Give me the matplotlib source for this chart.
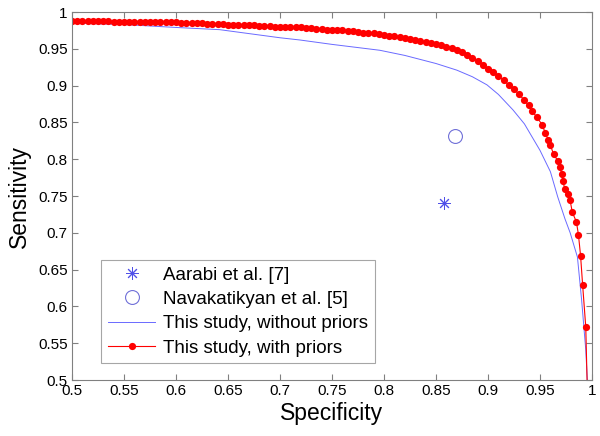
import numpy as np
from matplotlib import pyplot as plt

plt.rcParams['font.family'] = ['Liberation Sans', 'DejaVu Sans']

# "This study, with priors" (specificity, sensitivity)
spec_priors = [
    0.500, 0.505, 0.510, 0.515, 0.520, 0.525, 0.530, 0.535, 0.540, 0.545,
    0.550, 0.555, 0.560, 0.565, 0.570, 0.575, 0.580, 0.585, 0.590, 0.595,
    0.600, 0.605, 0.610, 0.615, 0.620, 0.625, 0.630, 0.635, 0.640, 0.645,
    0.650, 0.655, 0.660, 0.665, 0.670, 0.675, 0.680, 0.685, 0.690, 0.695,
    0.700, 0.705, 0.710, 0.715, 0.720, 0.725, 0.730, 0.735, 0.740, 0.745,
    0.750, 0.755, 0.760, 0.765, 0.770, 0.775, 0.780, 0.785, 0.790, 0.795,
    0.800, 0.805, 0.810, 0.815, 0.820, 0.825, 0.830, 0.835, 0.840, 0.845,
    0.850, 0.855, 0.860, 0.865, 0.870, 0.875, 0.880, 0.885, 0.890, 0.895,
    0.900, 0.905, 0.910, 0.915, 0.920, 0.925, 0.930, 0.935, 0.939, 0.942,
    0.947, 0.952, 0.955, 0.958, 0.960, 0.963, 0.967, 0.969, 0.971, 0.972,
    0.974, 0.977, 0.979, 0.981, 0.985, 0.987, 0.989, 0.991, 0.994, 0.997,
]
sens_priors = [
    0.988, 0.988, 0.988, 0.988, 0.988, 0.988, 0.988, 0.988, 0.987, 0.987,
    0.987, 0.987, 0.987, 0.987, 0.987, 0.987, 0.987, 0.986, 0.986, 0.986,
    0.986, 0.985, 0.985, 0.985, 0.985, 0.985, 0.984, 0.984, 0.984, 0.984,
    0.983, 0.983, 0.983, 0.983, 0.982, 0.982, 0.981, 0.981, 0.981, 0.980,
    0.980, 0.980, 0.979, 0.979, 0.979, 0.978, 0.978, 0.977, 0.977, 0.976,
    0.976, 0.975, 0.975, 0.974, 0.974, 0.973, 0.972, 0.972, 0.971, 0.970,
    0.969, 0.968, 0.967, 0.966, 0.965, 0.963, 0.962, 0.961, 0.959, 0.958,
    0.956, 0.955, 0.953, 0.951, 0.948, 0.945, 0.942, 0.938, 0.933, 0.928,
    0.923, 0.918, 0.913, 0.907, 0.901, 0.895, 0.888, 0.880, 0.873, 0.866,
    0.857, 0.847, 0.836, 0.826, 0.819, 0.807, 0.798, 0.789, 0.780, 0.770,
    0.759, 0.753, 0.744, 0.728, 0.715, 0.697, 0.669, 0.629, 0.572, 0.400,
]

# "This study, without priors"
spec_no_priors = [
    0.500, 0.550, 0.600, 0.642, 0.700, 0.719, 0.750, 0.796, 0.820, 0.850,
    0.870, 0.885, 0.899, 0.910, 0.924, 0.935, 0.950, 0.960, 0.967, 0.974,
    0.979, 0.986, 0.990, 0.994, 0.9955,
]
sens_no_priors = [
    0.985, 0.983, 0.979, 0.976, 0.965, 0.962, 0.956, 0.948, 0.941, 0.930,
    0.921, 0.912, 0.901, 0.888, 0.867, 0.848, 0.812, 0.783, 0.749, 0.719,
    0.700, 0.667, 0.609, 0.541, 0.500,
]

# published operating points
aarabi = (0.858, 0.741)
navakatikyan = (0.868, 0.831)

ticks = [0.5, 0.55, 0.6, 0.65, 0.7, 0.75, 0.8, 0.85, 0.9, 0.95, 1]
tick_labels = ['0.5', '0.55', '0.6', '0.65', '0.7', '0.75', '0.8', '0.85',
               '0.9', '0.95', '1']

fig = plt.figure(figsize=(6, 4.36), dpi=100)
ax = fig.add_axes([72 / 600, 1 - 380 / 436, 520 / 600, 368 / 436])

# MATLAB-style '*': eight thin arms
ax.plot(aarabi[0], aarabi[1], linestyle='none', marker=(8, 2, 0),
        markersize=9, color='#5050e8', markeredgewidth=0.7,
        label='Aarabi et al. [7]')
ax.plot(navakatikyan[0], navakatikyan[1], linestyle='none', marker='o',
        markersize=10, markerfacecolor='none', markeredgecolor='#7070d8',
        markeredgewidth=0.8, label='Navakatikyan et al. [5]')
ax.plot(spec_no_priors, sens_no_priors, color='#6a6aff', linewidth=0.7,
        label='This study, without priors')
ax.plot(spec_priors, sens_priors, color='red', linewidth=0.8, marker='o',
        markersize=5.2, markeredgewidth=0, label='This study, with priors')

ax.set_xlim(0.5, 1)
ax.set_ylim(0.5, 1)
ax.set_xticks(ticks)
ax.set_xticklabels(tick_labels)
ax.set_yticks(ticks)
ax.set_yticklabels(tick_labels)
ax.tick_params(direction='in', top=True, right=True, length=4,
               color='#808080', labelsize=11, pad=3)
for s in ax.spines.values():
    s.set_color('#808080')
    s.set_linewidth(0.8)

ax.set_xlabel('Specificity', fontsize=16.5, labelpad=3)
ax.set_ylabel('Sensitivity', fontsize=16.5, labelpad=5)

leg = ax.legend(loc='lower left', bbox_to_anchor=(0.056, 0.046), fontsize=13.5,
                frameon=True, fancybox=False, edgecolor='#909090',
                borderpad=0.35, labelspacing=0.38, handlelength=2.55,
                handletextpad=0.4, borderaxespad=0)
leg.get_frame().set_linewidth(0.8)

plt.savefig('out.png', dpi=100)
